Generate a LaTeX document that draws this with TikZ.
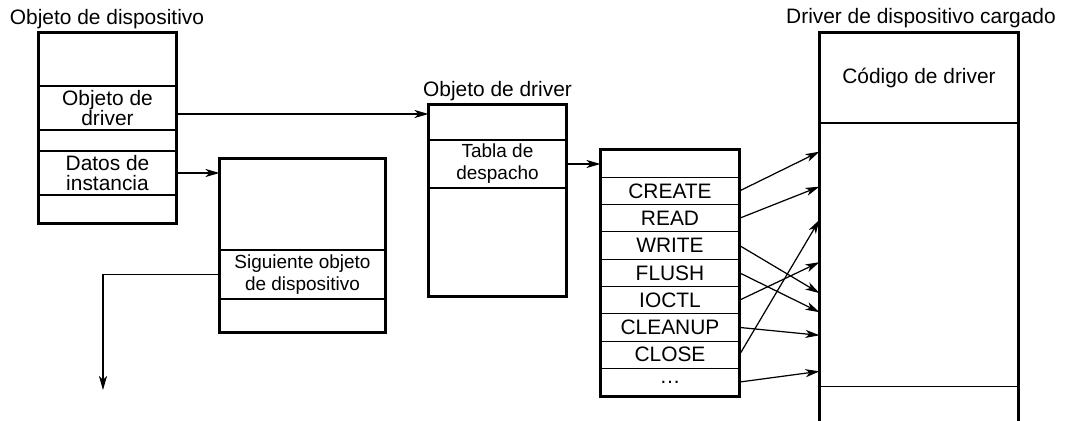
\documentclass[tikz,border=0pt]{standalone}
\usepackage{fontspec}
\setmainfont{Liberation Sans}
\usetikzlibrary{positioning,arrows.meta,fit,calc}

\begin{document}
\begin{tikzpicture}[
  x=0.02cm, y=-0.02cm,
  row/.style={rectangle, draw=black, line width=0.6pt, inner sep=0pt, align=center, minimum width=#1, font={\fontsize{11.9}{11.7}\selectfont}},
  smallrow/.style={row=#1, font={\fontsize{10.8}{12.6}\selectfont}},
  frame/.style={rectangle, draw=black, line width=1.5pt, inner sep=0pt, fit=#1},
  lbl/.style={anchor=base, inner sep=0pt, font={\fontsize{11.9}{13}\selectfont}},
  ptr/.style={line width=0.7pt, -{Stealth[length=8pt, width=4.6pt, inset=2.2pt]}}
]
\useasboundingbox (0,0) rectangle (1065,421);

% objeto de dispositivo
\node[row=2.74cm, minimum height=1.06cm] (devtop) at (107.5,59.5) {};
\node[row=2.74cm, minimum height=0.88cm] (devdrv) at (107.5,108) {Objeto de\\driver};
\node[row=2.74cm, minimum height=0.42cm] (devgap) at (107.5,140.5) {};
\node[row=2.74cm, minimum height=0.88cm] (devinst) at (107.5,173) {Datos de\\instancia};
\node[row=2.74cm, minimum height=0.56cm] (devbot) at (107.5,209) {};
\node[frame={(devtop)(devbot)}] (dev) {};
\node[lbl] at (107,25) {Objeto de dispositivo};

% siguiente objeto de dispositivo
\node[row=3.3cm, minimum height=1.82cm] (nxttop) at (302.5,204.5) {};
\node[smallrow=3.3cm, minimum height=0.98cm] (nxtnext) at (302.5,274.5) {Siguiente objeto\\de dispositivo};
\node[row=3.3cm, minimum height=0.66cm] (nxtbot) at (302.5,315.5) {};
\node[frame={(nxttop)(nxtbot)}] (nxt) {};
\coordinate (nxtend) at (103,390);

% objeto de driver
\node[row=2.74cm, minimum height=0.7cm] (drvtop) at (497.5,122.5) {};
\node[smallrow=2.74cm, minimum height=0.96cm] (drvtab) at (497.5,164) {Tabla de\\despacho};
\node[row=2.74cm, minimum height=2.16cm] (drvbot) at (497.5,242) {};
\node[frame={(drvtop)(drvbot)}] (drv) {};
\node[lbl] at (497.5,97) {Objeto de driver};

% tabla de despacho
\node[row=2.76cm, minimum height=0.546cm] (dsp0) at (670,163.65) {};
\node[row=2.76cm, minimum height=0.546cm] (dspcreate) at (670,190.95) {CREATE};
\node[row=2.76cm, minimum height=0.546cm] (dspread) at (670,218.25) {READ};
\node[row=2.76cm, minimum height=0.546cm] (dspwrite) at (670,245.55) {WRITE};
\node[row=2.76cm, minimum height=0.546cm] (dspflush) at (670,272.85) {FLUSH};
\node[row=2.76cm, minimum height=0.546cm] (dspioctl) at (670,300.15) {IOCTL};
\node[row=2.76cm, minimum height=0.546cm] (dspcleanup) at (670,327.45) {CLEANUP};
\node[row=2.76cm, minimum height=0.546cm] (dspclose) at (670,354.75) {CLOSE};
\node[row=2.76cm, minimum height=0.546cm] (dspmore) at (670,382.05) {…};
\node[frame={(dsp0)(dspmore)}] (dsp) {};

% driver de dispositivo cargado
\node[row=3.96cm, minimum height=1.8cm] (ldrcode) at (919,78) {Código de driver};
\node[row=3.96cm, minimum height=5.28cm] (ldrbody) at (919,255) {};
\draw[line width=1.5pt] ([yshift=-0.72cm]ldrbody.south west) -- (ldrcode.north west)
  -- (ldrcode.north east) -- ([yshift=-0.72cm]ldrbody.south east);
\node[lbl] at (921,23.5) {Driver de dispositivo cargado};

% punteros
\draw[ptr] ([yshift=-0.12cm]devdrv.east) -- ([yshift=-0.12cm]devdrv.east -| drvtop.west);
\draw[ptr] (devinst.east) -- (devinst.east -| nxttop.west);
\draw[ptr] (nxtnext.west) -| (nxtend);
\draw[ptr] (drvtab.east) -- (drvtab.east -| dsp0.west);

\draw[ptr] (dspcreate.east) -- ($(ldrbody.north west)!0.110!(ldrbody.south west)$);
\draw[ptr] (dspread.east) -- ($(ldrbody.north west)!0.242!(ldrbody.south west)$);
\draw[ptr] (dspwrite.east) -- ($(ldrbody.north west)!0.644!(ldrbody.south west)$);
\draw[ptr] (dspflush.east) -- ($(ldrbody.north west)!0.716!(ldrbody.south west)$);
\draw[ptr] (dspioctl.east) -- ($(ldrbody.north west)!0.527!(ldrbody.south west)$);
\draw[ptr] (dspcleanup.east) -- ($(ldrbody.north west)!0.803!(ldrbody.south west)$);
\draw[ptr] (dspclose.east) -- ($(ldrbody.north west)!0.367!(ldrbody.south west)$);
\draw[ptr] (dspmore.east) -- ($(ldrbody.north west)!0.939!(ldrbody.south west)$);
\end{tikzpicture}
\end{document}
